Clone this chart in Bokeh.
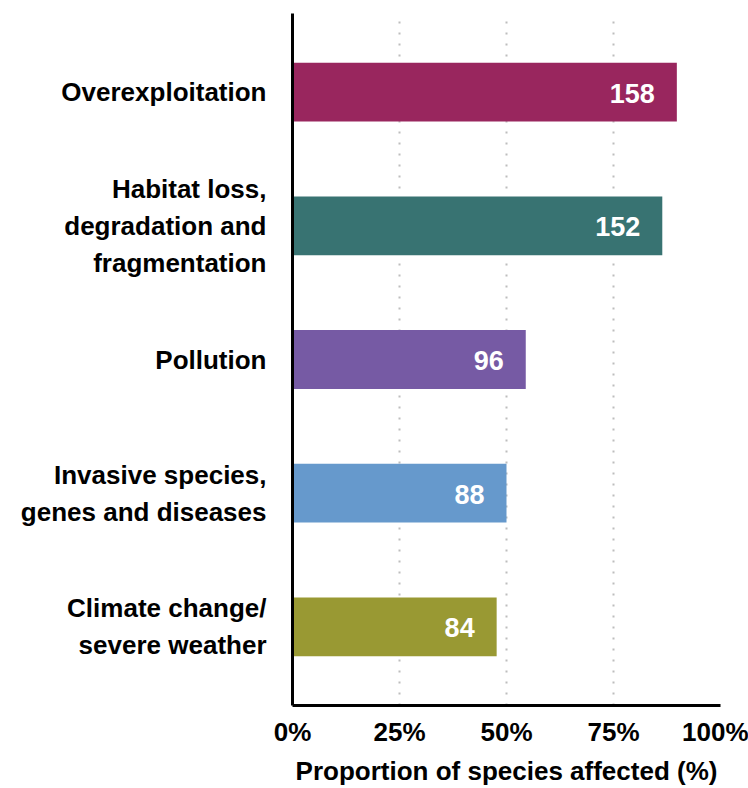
from bokeh.plotting import figure
from bokeh.models import ColumnDataSource, FactorRange, Range1d, FixedTicker, PrintfTickFormatter
from bokeh.core.properties import value
from bokeh.embed import file_html
from bokeh.resources import INLINE

categories = [
    "Overexploitation",
    "Habitat loss,\ndegradation and\nfragmentation",
    "Pollution",
    "Invasive species,\ngenes and diseases",
    "Climate change/\nsevere weather",
]
percent_affected = [89.8, 86.4, 54.5, 50.0, 47.7]
species_counts = [158, 152, 96, 88, 84]
bar_colors = ["#99265E", "#387372", "#765AA4", "#6699CC", "#999933"]
x_ticks = [0, 25, 50, 75, 100]

FONT = "Liberation Sans"

src = ColumnDataSource(dict(
    cat=categories,
    pct=percent_affected,
    n=[str(v) for v in species_counts],
    color=bar_colors,
))

p = figure(
    width=748, height=788,
    y_range=FactorRange(factors=list(reversed(categories)),
                        range_padding=0.088, range_padding_units="absolute"),
    x_range=Range1d(0, 100),
    output_backend="svg", toolbar_location=None,
)
p.min_border_left = 292
p.min_border_right = 28
p.min_border_top = 13
p.min_border_bottom = 82
p.outline_line_color = None

p.hbar(y="cat", right="pct", left=0, height=0.44, color="color",
       line_color=None, source=src)
p.text(x="pct", y="cat", text="n", source=src, x_offset=-22, y_offset=1,
       text_align="right", text_baseline="middle", text_color="white",
       text_font=value(FONT), text_font_style="bold", text_font_size="27px")

# grid
p.ygrid.grid_line_color = None
p.xgrid.ticker = FixedTicker(ticks=x_ticks)
p.xgrid.grid_line_color = "#bdbdbd"
p.xgrid.grid_line_width = 2
p.xgrid.grid_line_dash = "2 9"

# x axis
xa = p.xaxis[0]
xa.ticker = FixedTicker(ticks=x_ticks)
xa.formatter = PrintfTickFormatter(format="%d%%")
xa.axis_line_color = "black"
xa.axis_line_width = 3
xa.major_tick_line_color = None
xa.minor_tick_line_color = None
xa.major_label_text_font = FONT
xa.major_label_text_font_style = "bold"
xa.major_label_text_font_size = "26px"
xa.major_label_text_color = "black"
xa.major_label_standoff = 5
xa.axis_label = "Proportion of species affected (%)"
xa.axis_label_text_font = FONT
xa.axis_label_text_font_style = "bold"
xa.axis_label_text_font_size = "26px"
xa.axis_label_text_color = "black"
xa.axis_label_standoff = 6

# y axis
ya = p.yaxis[0]
ya.axis_line_color = "black"
ya.axis_line_width = 3
ya.major_tick_line_color = None
ya.minor_tick_line_color = None
ya.major_label_text_font = FONT
ya.major_label_text_font_style = "bold"
ya.major_label_text_font_size = "26px"
ya.major_label_text_color = "black"
ya.major_label_text_line_height = 1.23
ya.major_label_standoff = 20

open("out.html", "w").write(file_html(p, INLINE))
